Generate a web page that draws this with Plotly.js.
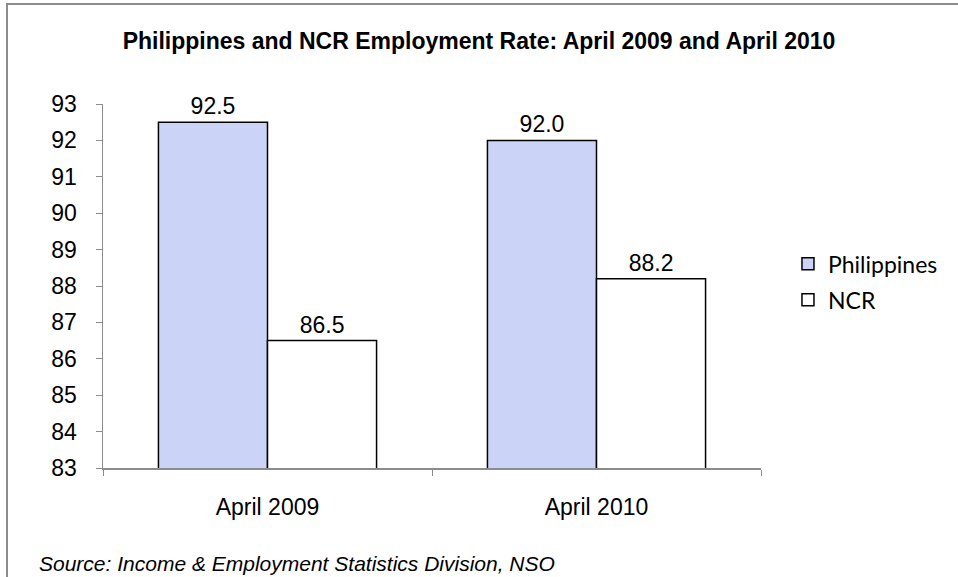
<!DOCTYPE html>
<html>
<head>
<meta charset="utf-8">
<script src="https://cdn.plot.ly/plotly-3.0.1.min.js"></script>
<style>
html,body{margin:0;padding:0;background:#fff;}
#chart{width:958px;height:577px;position:absolute;left:0;top:0;}
#frame{position:absolute;left:6px;top:3px;width:960px;height:590px;border-top:2px solid #8c8c8c;border-left:2px solid #8c8c8c;pointer-events:none;}
</style>
</head>
<body>
<div id="chart"></div>
<div id="frame"></div>
<script>
var categories = ["April 2009", "April 2010"];
var philippines = [92.5, 92.0];
var ncr = [86.5, 88.2];
var seriesNames = ["Philippines", "NCR"];
var titleText = "<b>Philippines and NCR Employment Rate: April 2009 and April 2010</b>";
var sourceText = "<i>Source: Income & Employment Statistics Division, NSO</i>";

var fontMain = "Liberation Sans, Arial, sans-serif";

var traces = [
  {
    type: "bar", name: seriesNames[0], x: categories, y: philippines, legendgroup: "a",
    marker: {color: "#cbd4f6", line: {color: "#000", width: 1.5}},
    text: philippines.map(function(v){return v.toFixed(1);}),
    textposition: "outside", cliponaxis: false,
    textfont: {family: fontMain, size: 23, color: "#000"}
  },
  {
    type: "bar", name: seriesNames[1], x: categories, y: ncr, legendgroup: "b",
    marker: {color: "#ffffff", line: {color: "#000", width: 1.5}},
    text: ncr.map(function(v){return v.toFixed(1);}),
    textposition: "outside", cliponaxis: false,
    textfont: {family: fontMain, size: 23, color: "#000"}
  }
];

var layout = {
  width: 958, height: 577,
  margin: {l: 103, r: 197, t: 104, b: 109},
  paper_bgcolor: "#fff", plot_bgcolor: "#fff",
  barmode: "group", bargap: 0.337, bargroupgap: 0,
  showlegend: true,
  title: {text: titleText, x: 0.5, xanchor: "center", y: 0.929, yanchor: "middle",
          font: {family: fontMain, size: 23, color: "#000"}},
  xaxis: {
    type: "category", tickson: "boundaries", ticks: "outside", ticklen: 6,
    tickcolor: "#8c8c8c", showline: true, linecolor: "#8c8c8c", linewidth: 1.5,
    showgrid: false, zeroline: false, ticklabelstandoff: 18,
    tickfont: {family: fontMain, size: 23, color: "#000"}
  },
  yaxis: {
    range: [83, 93], dtick: 1, ticks: "outside", ticklen: 6, tickcolor: "#8c8c8c",
    showline: true, linecolor: "#8c8c8c", linewidth: 1.5, showgrid: false, zeroline: false,
    ticklabelstandoff: 14,
    tickfont: {family: fontMain, size: 23, color: "#000"}
  },
  legend: {
    x: 1.041, xanchor: "left", y: 0.62, yanchor: "top",
    traceorder: "grouped", tracegroupgap: 3,
    font: {family: "Lato, Carlito, sans-serif", size: 23, color: "#000"},
    itemwidth: 30, bgcolor: "rgba(0,0,0,0)"
  },
  annotations: [{
    text: sourceText, xref: "paper", yref: "paper", x: -0.1003, y: -0.2637,
    xanchor: "left", yanchor: "middle", showarrow: false,
    font: {family: fontMain, size: 21, color: "#000"}
  }]
};

Plotly.newPlot("chart", traces, layout, {displayModeBar: false, staticPlot: true});
</script>
</body>
</html>
